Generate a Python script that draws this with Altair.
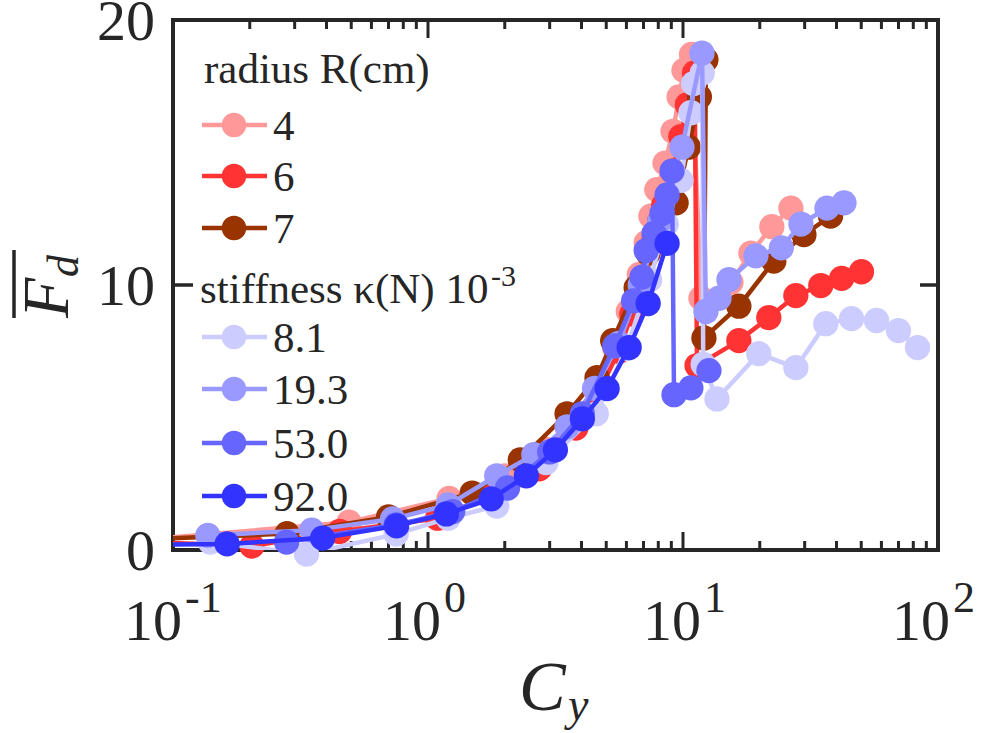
import altair as alt
import pandas as pd

# ---------------- data ----------------
names = ["4", "6", "7", "8.1", "19.3", "53.0", "92.0"]
colors = ["#FF9999", "#FF3333", "#993300", "#CCCCFF", "#9999FF", "#6666FF", "#3333FF"]

r4_x = [0.07, 0.49, 1.21, 2.0, 2.9, 3.8, 4.6, 5.4, 6.1, 6.74, 7.17, 7.48, 7.89, 8.5, 9.14, 9.65, 10.09, 10.8,
        11.76, 15.42, 18.46, 22.3, 26.5]
r4_y = [0.35, 1.05, 1.95, 2.8, 3.8, 5.0, 6.3, 7.6, 9.0, 10.4, 11.6, 12.6, 13.6, 14.6, 15.8, 17.1, 18.1, 18.7,
        9.5, 10.1, 11.2, 12.2, 12.9]

r6_x = [0.08, 0.204, 0.45, 1.09, 1.8, 2.73, 3.8, 4.8, 5.6, 6.3, 7.0, 7.7, 8.4, 9.1, 9.8, 10.4, 11.1,
        11.35, 16.56, 21.7, 27.7, 34.7, 41.9, 50.1]
r6_y = [0.3, 0.15, 0.7, 1.2, 2.1, 3.06, 4.6, 6.2, 7.5, 8.9, 10.3, 11.7, 13.0, 14.3, 15.6, 16.8, 18.0,
        6.96, 7.9, 8.77, 9.6, 9.98, 10.25, 10.5]

r7_x = [0.08, 0.28, 0.7, 1.49, 2.3, 3.51, 4.6, 5.3, 6.55, 7.3, 8.1, 9.4, 10.5, 11.6, 12.3,
        12.08, 16.56, 22.7, 29.8, 37.9]
r7_y = [0.4, 0.62, 1.25, 2.15, 3.4, 5.14, 6.5, 7.9, 9.9, 11.2, 12.4, 13.1, 15.2, 17.1, 18.5,
        8.0, 9.2, 10.9, 11.9, 12.6]

k8_x = [0.14, 0.334, 0.75, 1.2, 1.86, 2.9, 4.57, 6.0, 7.4, 8.6, 9.82, 10.74, 11.0, 11.9, 12.0,
        13.59, 19.82, 27.7, 36.3, 45.8, 57.4, 70.0, 83.1]
k8_y = [0.3, -0.15, 0.6, 1.2, 1.66, 3.3, 5.14, 7.6, 10.2, 12.3, 13.95, 16.5, 17.6, 18.0, 7.0,
        5.7, 7.41, 6.88, 8.54, 8.73, 8.66, 8.28, 7.64]

k19_x = [0.137, 0.35, 0.726, 1.2, 1.86, 2.6, 3.51, 4.5, 5.6, 6.8, 8.1, 9.91, 11.87,
         12.3, 13.84, 15.14, 19.31, 24.3, 29.0, 36.7, 42.8]
k19_y = [0.55, 0.75, 1.17, 1.7, 2.8, 3.6, 4.65, 6.1, 7.8, 10.0, 12.4, 15.2, 18.75,
         9.0, 9.5, 10.2, 11.1, 11.4, 12.3, 12.9, 13.1]

k53_x = [0.279, 0.75, 1.25, 2.05, 3.0, 4.03, 5.4, 6.4, 6.91, 7.17, 7.70, 8.27, 8.66, 9.06,
         9.22, 10.74, 12.64]
k53_y = [0.3, 0.95, 1.45, 2.34, 3.7, 5.14, 7.7, 9.4, 10.3, 11.3, 11.95, 12.7, 13.4, 14.3,
         5.86, 6.12, 6.77]

k92_x = [0.08, 0.163, 0.386, 0.753, 1.18, 1.77, 2.43, 3.16, 4.03, 5.04, 6.15, 7.30, 8.66]
k92_y = [0.2, 0.23, 0.45, 0.91, 1.36, 1.93, 2.80, 3.78, 4.95, 6.09, 7.64, 9.30, 11.57]

series_x = [r4_x, r6_x, r7_x, k8_x, k19_x, k53_x, k92_x]
series_y = [r4_y, r6_y, r7_y, k8_y, k19_y, k53_y, k92_y]

x_major = [0.1, 1, 10, 100]
x_sup = ["-1", "0", "1", "2"]
x_minor = [m * d for d in (0.1, 1, 10) for m in range(2, 10)]
y_major = [0, 10, 20]
y_labels = ["0", "10", "20"]

# ---------------- build table ----------------
rows = []
for name, xs, ys in zip(names, series_x, series_y):
    for i, (xv, yv) in enumerate(zip(xs, ys)):
        rows.append({"series": name, "i": i, "x": xv, "y": yv})
df = pd.DataFrame(rows)

W, H = 765, 530
FONT = "'Liberation Serif', 'Times New Roman', Times, 'DejaVu Serif', serif"
AX = "#262626"
xscale = alt.Scale(type="log", domain=[0.1, 100], nice=False)
yscale = alt.Scale(domain=[0, 20], nice=False, zero=False)

layers = []

# ticks (inward, MATLAB style)
def xticks(vals, length, top):
    d = pd.DataFrame({"v": vals})
    y0 = 0 if top else H
    y1 = length if top else H - length
    return alt.Chart(d).mark_rule(color=AX, strokeWidth=3).encode(
        x=alt.X("v:Q", scale=xscale, axis=None), y=alt.value(y0), y2=alt.value(y1))

layers += [xticks(x_major, 18, False), xticks(x_minor, 9, False),
           xticks(x_major, 18, True), xticks(x_minor, 9, True)]
ydf = pd.DataFrame({"v": y_major, "t": y_labels})
layers.append(alt.Chart(ydf).mark_rule(color=AX, strokeWidth=3.5).encode(
    y=alt.Y("v:Q", scale=yscale, axis=None), x=alt.value(0), x2=alt.value(20)))
layers.append(alt.Chart(ydf).mark_rule(color=AX, strokeWidth=3.5).encode(
    y=alt.Y("v:Q", scale=yscale, axis=None), x=alt.value(W), x2=alt.value(W - 18)))

# data series: line then markers, series by series
for name, col in zip(names, colors):
    base = alt.Chart(df).transform_filter(alt.datum.series == name)
    layers.append(base.mark_line(strokeWidth=4.5, clip=True, color=col).encode(
        x=alt.X("x:Q", scale=xscale, axis=None),
        y=alt.Y("y:Q", scale=yscale, axis=None),
        order=alt.Order("i:Q")))
    layers.append(base.transform_filter(alt.datum.x >= 0.1).mark_circle(
        size=640, opacity=1, color=col).encode(
        x=alt.X("x:Q", scale=xscale, axis=None),
        y=alt.Y("y:Q", scale=yscale, axis=None)))

# y tick labels
layers.append(alt.Chart(ydf).mark_text(font=FONT, fontSize=58, align="right", baseline="alphabetic",
                                       dx=-18, dy=20, color=AX).encode(
    y=alt.Y("v:Q", scale=yscale, axis=None), x=alt.value(0), text="t:N"))

# x tick labels 10^n
base_dx = {"-1": 9, "0": 13, "1": 18, "2": 12}
for v, s in zip(x_major, x_sup):
    d = pd.DataFrame({"v": [v], "b": ["10"], "s": [s]})
    layers.append(alt.Chart(d).mark_text(font=FONT, fontSize=58, align="right", baseline="alphabetic",
                                         dx=base_dx[s], color=AX).encode(
        x=alt.X("v:Q", scale=xscale, axis=None), y=alt.value(H + 90), text="b:N"))
    layers.append(alt.Chart(d).mark_text(font=FONT, fontSize=44, align="left", baseline="alphabetic",
                                         dx=base_dx[s] + 3, color=AX).encode(
        x=alt.X("v:Q", scale=xscale, axis=None), y=alt.value(H + 62), text="s:N"))

# axis titles
def txt(t, x, y, size, italic=False, angle=0, align="left"):
    d = pd.DataFrame({"t": [t]})
    kw = dict(font=FONT, fontSize=size, align=align, baseline="alphabetic", color=AX)
    if italic:
        kw["fontStyle"] = "italic"
    if angle:
        kw["angle"] = angle
    return alt.Chart(d).mark_text(**kw).encode(x=alt.value(x), y=alt.value(y), text="t:N")

layers.append(txt("C", 346, 690, 70, italic=True))
layers.append(txt("y", 395, 700, 46, italic=True))
layers.append(txt("F", -105, 298, 66, italic=True, angle=270))
layers.append(txt("d", -95, 257, 44, italic=True, angle=270))
layers.append(alt.Chart(pd.DataFrame({"a": [0]})).mark_rule(color=AX, strokeWidth=3.5).encode(
    x=alt.value(-159), y=alt.value(230), y2=alt.value(298)))

# legend (drawn inside the plot, top-left)
layers.append(txt("radius R(cm)", 31, 63, 43))
layers.append(txt("stiffness κ(N) 10", 27, 283, 43))
layers.append(txt("-3", 318, 266, 30))
leg_y = [105, 156, 208, 317, 369, 423, 476]
for name, col, ly in zip(names, colors, leg_y):
    d = pd.DataFrame({"t": [name]})
    layers.append(alt.Chart(d).mark_rule(color=col, strokeWidth=4.5).encode(
        x=alt.value(29), x2=alt.value(94), y=alt.value(ly)))
    layers.append(alt.Chart(d).mark_point(filled=True, shape="circle", size=600, opacity=1,
                                          color=col).encode(x=alt.value(61), y=alt.value(ly)))
    layers.append(txt(name, 100, ly + 15, 43))

chart = alt.layer(*layers).properties(
    width=W, height=H,
    padding={"left": 173, "top": 20, "right": 49, "bottom": 183},
    autosize=alt.AutoSizeParams(type="none"),
).configure_view(stroke=AX, strokeWidth=4)

chart.save("out.html", embed_options={"renderer": "svg", "actions": False})
